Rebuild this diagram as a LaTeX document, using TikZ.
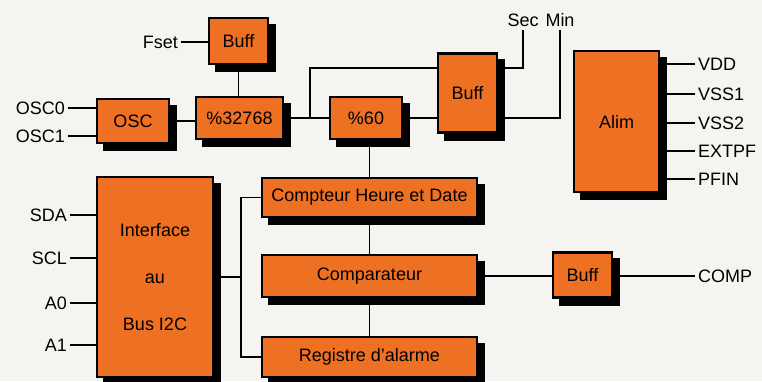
\documentclass[tikz,border=0pt]{standalone}
\usepackage{fontspec}
\setmainfont{Liberation Sans}
\usepackage{xcolor}
\usepackage{tikz}
\usetikzlibrary{positioning}
\definecolor{boxorange}{RGB}{238, 112, 34}
\definecolor{paper}{RGB}{246, 244, 240}
\pgfdeclarelayer{bg}
\pgfsetlayers{bg,main}

\begin{document}
\begin{tikzpicture}[x=1pt, y=-1pt,
  blk/.style={draw=black, line width=2.5pt, fill=boxorange, inner sep=0pt,
    font=\fontsize{18}{21}\selectfont},
  lbl/.style={inner sep=3pt, font=\fontsize{18}{21}\selectfont},
  wire/.style={line width=1.4pt}]
\useasboundingbox (0,0) rectangle (762,381);
% blocs
\node[blk, minimum width=59, minimum height=46] (bufftop) at (238.5,41) {Buff};
\node[blk, minimum width=72, minimum height=44] (osc) at (133,121) {OSC};
\node[blk, minimum width=87, minimum height=42] (divA) at (239.5,118) {\%32768};
\node[blk, minimum width=72, minimum height=42] (divB) at (366,118) {\%60};
\node[blk, minimum width=59, minimum height=79] (buffsec) at (467.5,93) {Buff};
\node[blk, minimum width=85, minimum height=141] (alim) at (616.5,121.5) {Alim};
\node[blk, minimum width=215, minimum height=39] (cpt) at (369.5,197.5) {Compteur Heure et Date};
\node[blk, minimum width=215, minimum height=42] (cmp) at (369.5,276) {Comparateur};
\node[blk, minimum width=215, minimum height=40] (reg) at (369.5,357) {Registre d'alarme};
\node[blk, minimum width=116, minimum height=200, align=center] (itf) at (155,277) {Interface\\[26pt]au\\[26pt]Bus I2C};
\node[blk, minimum width=59, minimum height=45] (buffcmp) at (582.5,275) {Buff};
% ombres
\begin{pgfonlayer}{bg}
\fill[paper] (0,0) rectangle (762,381);
\foreach \n in {bufftop, osc, divA, divB, buffsec, alim, cpt, cmp, reg, itf, buffcmp}
  \fill[black] ([shift={(7pt,-7pt)}]\n.south west) rectangle ([shift={(7pt,-7pt)}]\n.north east);
\end{pgfonlayer}
% entrees / sorties
\node[lbl, anchor=east] (fset) at (181,42) {Fset};
\node[lbl, anchor=east] (osc0) at (68,108) {OSC0};
\node[lbl, anchor=east] (osc1) at (68,136) {OSC1};
\node[lbl, anchor=east] (sda) at (70,215) {SDA};
\node[lbl, anchor=east] (scl) at (70,258) {SCL};
\node[lbl, anchor=east] (a0) at (70,303) {A0};
\node[lbl, anchor=east] (a1) at (70,345) {A1};
\node[lbl] (sec) at (523,20) {Sec};
\node[lbl] (min) at (560,20) {Min};
\node[lbl, anchor=west] (vdd) at (695,64) {VDD};
\node[lbl, anchor=west] (vssa) at (695,94) {VSS1};
\node[lbl, anchor=west] (vssb) at (695,123) {VSS2};
\node[lbl, anchor=west] (extpf) at (695,151) {EXTPF};
\node[lbl, anchor=west] (pfin) at (695,179) {PFIN};
\node[lbl, anchor=west] (comp) at (695,276) {COMP};
\coordinate (tap) at (310,118);
\coordinate (bus) at (241,277);
% liaisons
\draw[wire] (fset.east) -- (fset.east -| bufftop.west);
\draw[wire] (bufftop.south) -- (bufftop.south |- divA.north);
\draw[wire] (osc0.east) -- (osc0.east -| osc.west);
\draw[wire] (osc1.east) -- (osc1.east -| osc.west);
\draw[wire] (osc.east) -- (osc.east -| divA.west);
\draw[wire] (divA.east) -- (divB.west);
\draw[wire] (tap) |- ([yshift=25]buffsec.west);
\draw[wire] (divB.east) -- (divB.east -| buffsec.west);
\draw[wire] ([yshift=25]buffsec.east) -| (sec.south);
\draw[wire] ([yshift=-25]buffsec.east) -| (min.south);
\draw[wire] (cpt.north) -- (cpt.north |- divB.south);
\draw[wire] (cpt.south) -- (cmp.north);
\draw[wire] (cmp.south) -- (reg.north);
\draw[wire] (cmp.east) -- (cmp.east -| buffcmp.west);
\draw[wire] (buffcmp.east |- comp.west) -- (comp.west);
\draw[wire] (itf.east) -- (bus);
\draw[wire] (cpt.west) -| (bus) |- (reg.west);
\foreach \p in {sda, scl, a0, a1}
  \draw[wire] (\p.east) -- (\p.east -| itf.west);
\foreach \p in {vdd, vssa, vssb, extpf, pfin}
  \draw[wire] (\p.west) -- (\p.west -| alim.east);
\end{tikzpicture}
\end{document}
